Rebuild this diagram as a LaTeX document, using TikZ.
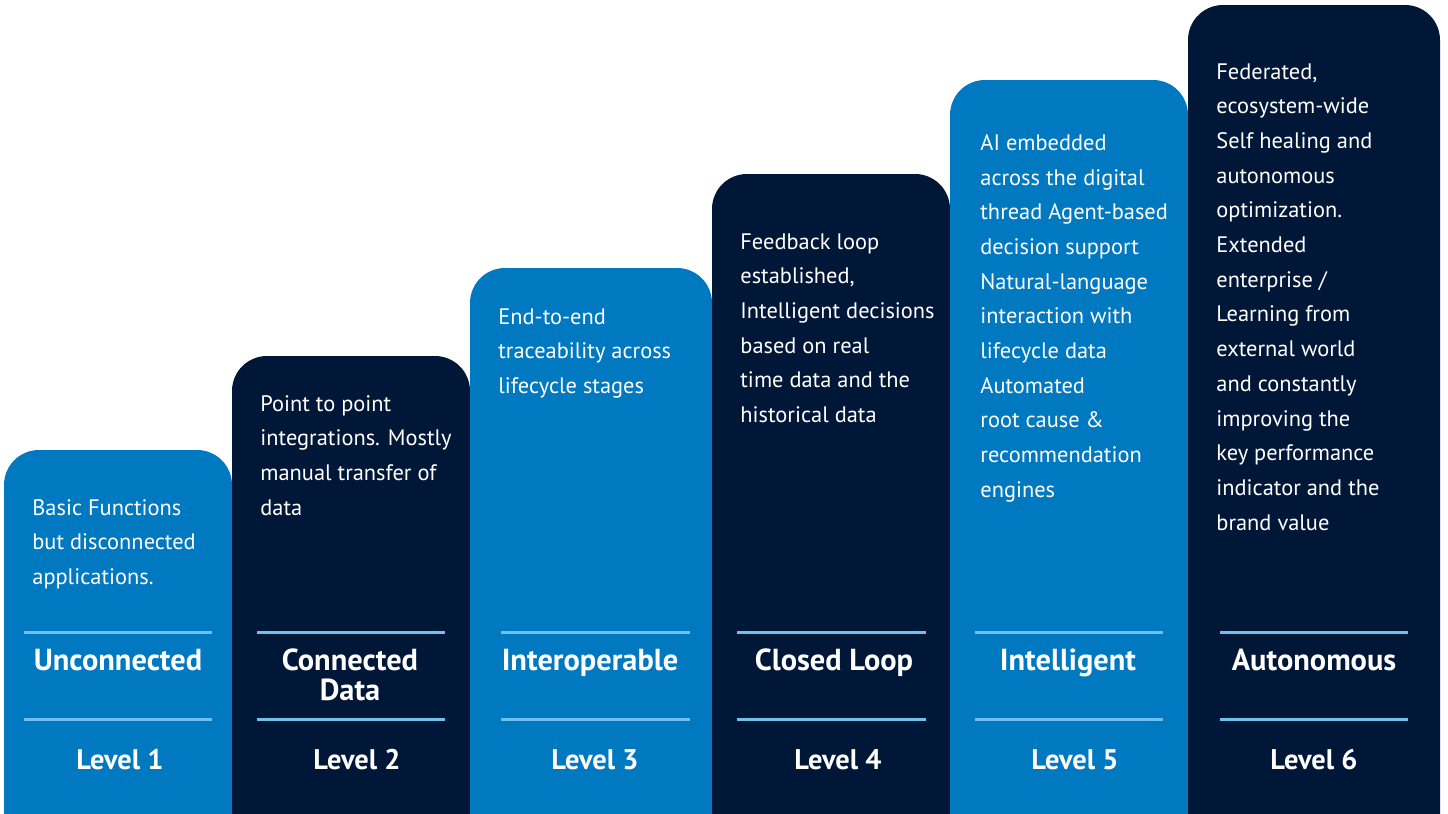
\documentclass[tikz,border=0pt]{standalone}
\usepackage{fontspec}
\setmainfont{PT Sans}
\definecolor{cblue}{HTML}{0079C1}
\definecolor{cnavy}{HTML}{001738}
\definecolor{cline}{HTML}{6EC1EE}
\begin{document}
\begin{tikzpicture}[x=0.5pt,y=-0.5pt,
  colblue/.style={fill=cblue},
  colnavy/.style={fill=cnavy},
  bodytxt/.style={anchor=north west,inner sep=0pt,align=left,text=white,font=\fontsize{11.2pt}{17.35pt}\selectfont},
  titletxt/.style={anchor=base,inner sep=0pt,align=center,text=white,font=\bfseries\fontsize{15.2pt}{15pt}\selectfont},
  leveltxt/.style={anchor=base,inner sep=0pt,text=white,font=\bfseries\fontsize{14.2pt}{15pt}\selectfont},
  sepline/.style={draw=cline,line width=1.5pt}]
\useasboundingbox (0,0) rectangle (1448,814);
\fill[white] (0,0) rectangle (1448,814);
% columns
\fill[colblue] (4,814) [rounded corners=17.5pt] -- (4,450) -- (232,450) [sharp corners] -- (232,814) -- cycle;
\fill[colnavy] (232,814) [rounded corners=17.5pt] -- (232,356) -- (470,356) [sharp corners] -- (470,814) -- cycle;
\fill[colblue] (470,814) [rounded corners=17.5pt] -- (470,268) -- (712,268) [sharp corners] -- (712,814) -- cycle;
\fill[colnavy] (712,814) [rounded corners=17.5pt] -- (712,174) -- (950,174) [sharp corners] -- (950,814) -- cycle;
\fill[colblue] (950,814) [rounded corners=17.5pt] -- (950,80) -- (1188,80) [sharp corners] -- (1188,814) -- cycle;
\fill[colnavy] (1188,814) [rounded corners=17.5pt] -- (1188,5) -- (1440,5) [sharp corners] -- (1440,814) -- cycle;
% separator lines
\foreach \a/\b [count=\i] in {24/212,257/445,501/690,737/926,975/1163,1220/1408}{
  \coordinate (la\i) at (\a,632); \coordinate (lb\i) at (\b,632);
  \coordinate (ma\i) at (\a,719); \coordinate (mb\i) at (\b,719);
  \draw[sepline] (la\i) -- (lb\i);
  \draw[sepline] (ma\i) -- (mb\i);
}
% body texts
\node[bodytxt] (b1) at (32,499) {Basic Functions\\but disconnected\\applications.};
\node[bodytxt] (b2) at (260,395) {Point to point\\integrations. Mostly\\manual transfer of\\data};
\node[bodytxt] (b3) at (498,308) {End-to-end\\traceability across\\lifecycle stages};
\node[bodytxt] (b4) at (740,233) {Feedback loop\\established,\\Intelligent decisions\\based on real\\time data and the\\historical data};
\node[bodytxt] (b5) at (980,134) {AI embedded\\across the digital\\thread Agent-based\\decision support\\Natural-language\\interaction with\\lifecycle data\\Automated\\root cause \&\\recommendation\\engines};
\node[bodytxt] (b6) at (1216,63) {Federated,\\ecosystem-wide\\Self healing and\\autonomous\\optimization.\\Extended\\enterprise /\\Learning from\\external world\\and constantly\\improving the\\key performance\\indicator and the\\brand value};
% titles
\node[titletxt] (t1) at (118,670) {Unconnected};
\node[titletxt] (t2a) at (350,670) {Connected};
\node[titletxt] (t2b) at (350,700) {Data};
\node[titletxt] (t3) at (590,670) {Interoperable};
\node[titletxt] (t4) at (834,670) {Closed Loop};
\node[titletxt] (t5) at (1068,670) {Intelligent};
\node[titletxt] (t6) at (1314,670) {Autonomous};
% levels
\node[leveltxt] (v1) at (120,769) {Level 1};
\node[leveltxt] (v2) at (357,769) {Level 2};
\node[leveltxt] (v3) at (595,769) {Level 3};
\node[leveltxt] (v4) at (838,769) {Level 4};
\node[leveltxt] (v5) at (1075,769) {Level 5};
\node[leveltxt] (v6) at (1314,769) {Level 6};
\end{tikzpicture}
\end{document}
